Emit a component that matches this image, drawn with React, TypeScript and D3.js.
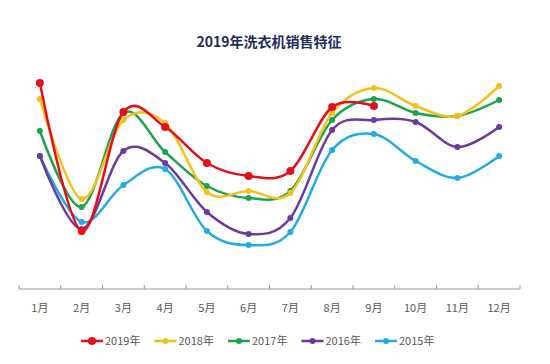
import * as d3 from 'd3'
import { useEffect, useRef } from 'react'

// months on the x axis
const months = ['1月', '2月', '3月', '4月', '5月', '6月', '7月', '8月', '9月', '10月', '11月', '12月']

// sales index per year (no y axis shown)
const sales2019 = [82.4, 23.2, 70.8, 64.8, 50.4, 45.2, 47.2, 72.8, 73.2]
const sales2018 = [76, 36, 67.6, 66.4, 38.8, 39.2, 38.4, 70.4, 80.4, 73.2, 69.2, 81.2]
const sales2017 = [63.2, 32.8, 70.4, 54.8, 41.2, 36.4, 39.2, 67.6, 76, 70.4, 69.2, 75.6]
const sales2016 = [53.2, 24, 55.2, 50.4, 30.8, 22, 28.4, 63.6, 67.6, 66.8, 56.8, 64.8]
const sales2015 = [53.2, 26.8, 41.6, 48, 23.2, 17.6, 22.8, 55.6, 62, 51.2, 44.4, 53.2]

const seriesNames = ['2019年', '2018年', '2017年', '2016年', '2015年']
const seriesColors = ['#e50f1a', '#f4c11c', '#1da24e', '#6b3a9e', '#22ade0']

export default function App() {
  const ref = useRef<SVGSVGElement>(null)

  useEffect(() => {
    if (!ref.current) return
    const svg = d3.select(ref.current)
    svg.selectAll('*').remove()

    const width = 550
    const height = 364
    const font = '"Noto Sans CJK SC", "Noto Sans", sans-serif'
    svg.attr('width', width).attr('height', height)

    const seriesData = [sales2019, sales2018, sales2017, sales2016, sales2015]

    // Scales
    const xScale = d3.scaleBand().domain(months).range([19, 520])
    const yScale = d3.scaleLinear().domain([0, 100]).range([289, 39])
    const xc = (i: number) => xScale(months[i])! + xScale.bandwidth() / 2

    // Title
    svg
      .append('text')
      .attr('x', 269)
      .attr('y', 47)
      .attr('text-anchor', 'middle')
      .style('font-family', font)
      .style('font-size', '14px')
      .style('font-weight', 'bold')
      .style('fill', '#1f2d5c')
      .text('2019年洗衣机销售特征')

    // X axis
    const axis = svg.append('g').attr('transform', 'translate(0,289)')
    axis
      .append('line')
      .attr('x1', 19)
      .attr('x2', 520)
      .attr('stroke', '#9a9a9a')
      .attr('stroke-width', 1)
    const ticks = months.map(m => xScale(m)!).concat([520])
    axis
      .selectAll('.tick')
      .data(ticks)
      .enter()
      .append('line')
      .attr('x1', d => d)
      .attr('x2', d => d)
      .attr('y1', -4)
      .attr('y2', 0)
      .attr('stroke', '#9a9a9a')
    axis
      .selectAll('.label')
      .data(months)
      .enter()
      .append('text')
      .attr('x', (_, i) => xc(i))
      .attr('y', 23)
      .attr('text-anchor', 'middle')
      .style('font-family', font)
      .style('font-size', '11px')
      .style('fill', '#595959')
      .text(d => d)

    // Lines, last series drawn first so 2019 sits on top
    const line = d3
      .line<number>()
      .x((_, i) => xc(i))
      .y(d => yScale(d))
      .curve(d3.curveCatmullRom.alpha(0))

    for (let s = seriesData.length - 1; s >= 0; s--) {
      const g = svg.append('g')
      g.append('path')
        .datum(seriesData[s])
        .attr('fill', 'none')
        .attr('stroke', seriesColors[s])
        .attr('stroke-width', 2.5)
        .attr('d', line)
      g.selectAll('circle')
        .data(seriesData[s])
        .enter()
        .append('circle')
        .attr('cx', (_, i) => xc(i))
        .attr('cy', d => yScale(d))
        .attr('r', s === 0 ? 4 : 3)
        .attr('fill', seriesColors[s])
    }

    // Legend
    const legend = svg.append('g').attr('transform', 'translate(81,341)')
    seriesNames.forEach((name, i) => {
      const item = legend.append('g').attr('transform', `translate(${i * 73.5},0)`)
      item
        .append('line')
        .attr('x1', 0)
        .attr('x2', 22)
        .attr('stroke', seriesColors[i])
        .attr('stroke-width', 2.5)
      item
        .append('circle')
        .attr('cx', 11)
        .attr('r', i === 0 ? 4 : 3)
        .attr('fill', seriesColors[i])
      item
        .append('text')
        .attr('x', 24)
        .attr('y', 4)
        .style('font-family', font)
        .style('font-size', '11px')
        .style('fill', '#595959')
        .text(name)
    })
  }, [])

  return (
    <div style={{ position: 'absolute', left: 0, top: 0, background: '#fff' }}>
      <svg ref={ref} style={{ display: 'block' }}></svg>
    </div>
  )
}
